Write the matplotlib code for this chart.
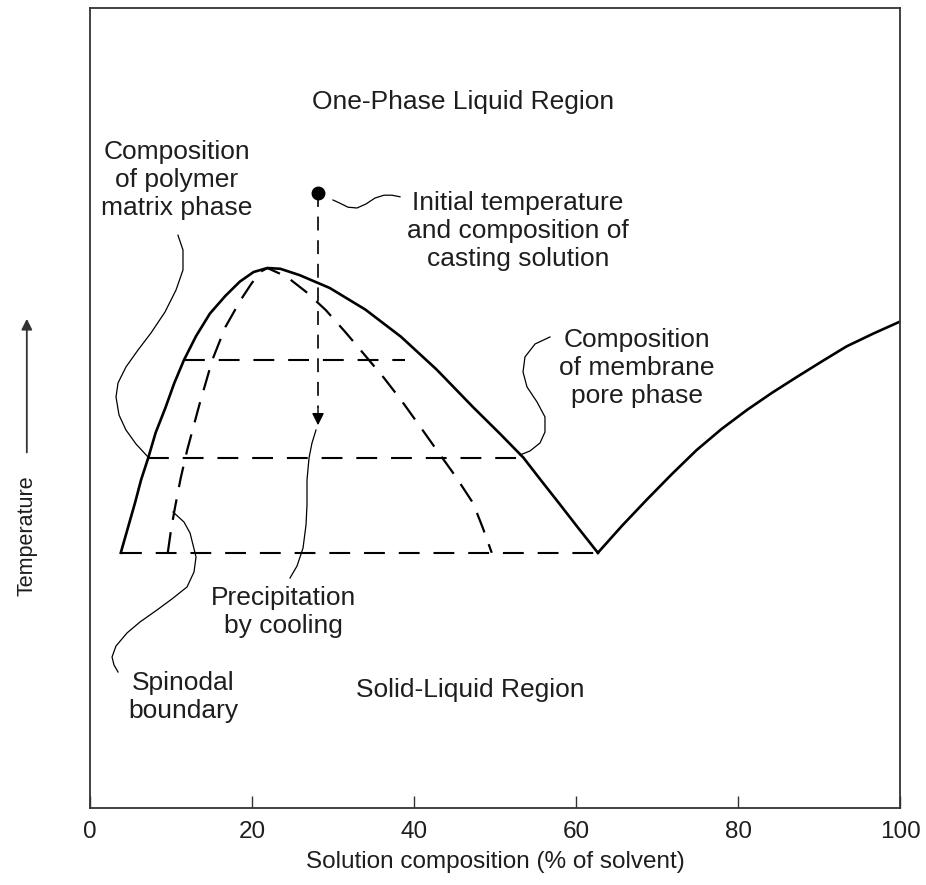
import matplotlib
matplotlib.use("Agg")
import matplotlib.pyplot as plt

plt.rcParams['font.family'] = ['Liberation Sans', 'DejaVu Sans']
plt.rcParams['lines.scale_dashes'] = False

# binodal (solid) curve, % solvent vs temperature (arbitrary units 0-100)
binodal_x = [3.8, 4.7, 5.6, 6.3, 7.2, 8.1, 9.3, 10.4, 11.6, 13.1, 14.8, 16.7, 18.5, 20.2, 21.9,
             23.5, 25.9, 29.6, 34.0, 38.4, 42.8, 47.3, 50.6, 53.5, 55.8, 57.9, 60.2, 62.7]
binodal_y = [31.9, 35.1, 38.3, 41.0, 43.8, 46.9, 50.0, 53.1, 56.0, 59.0, 61.8, 64.0, 65.8, 67.0, 67.5,
             67.4, 66.6, 65.0, 62.3, 58.9, 54.8, 50.1, 46.8, 43.8, 40.8, 38.1, 35.1, 31.9]

# liquidus on the solvent side
liquidus_x = [62.7, 65.7, 68.7, 71.8, 74.9, 78.0, 81.1, 84.2, 87.3, 90.4, 93.4, 96.7, 100]
liquidus_y = [31.9, 35.3, 38.5, 41.7, 44.75, 47.4, 49.75, 51.9, 53.9, 55.85, 57.7, 59.3, 60.8]

# spinodal (dashed)
spinodal_x = [9.6, 10.0, 10.5, 11.2, 12.0, 13.5, 15.1, 16.7, 18.6, 19.9, 21.0, 21.9,
              24.3, 26.7, 29.1, 31.6, 34.1, 36.3, 38.4, 40.6, 42.8, 45.1, 47.3, 48.5, 49.6]
spinodal_y = [31.9, 34.75, 37.6, 41.25, 44.75, 50.4, 56.0, 60.1, 63.5, 65.5, 67.0, 67.5,
              66.4, 64.5, 62.25, 59.4, 56.4, 53.75, 51.0, 47.9, 44.75, 41.5, 38.1, 35.0, 31.9]

# tie lines: temperature, left end, right end
tie_y = [31.9, 43.8, 56.0]
tie_left = [3.8, 7.2, 11.6]
tie_right = [62.7, 53.5, 38.9]

# casting solution start point and cooling path
start_x = 28.15
start_y = 76.9
end_y = 47.5

# leader squiggles for the labels
lead_polymer_x = [10.86, 11.48, 11.48, 10.62, 9.26, 7.53, 5.93, 4.44, 3.46, 3.21, 3.58, 4.44, 5.68, 7.16]
lead_polymer_y = [71.6, 69.75, 67.25, 64.75, 62.0, 59.38, 57.25, 55.13, 53.13, 51.38, 49.13, 47.25, 45.5, 43.88]
lead_membrane_x = [56.79, 54.94, 53.7, 53.46, 53.95, 55.19, 56.17, 56.17, 55.56, 54.32, 53.09]
lead_membrane_y = [58.88, 58.0, 56.38, 54.5, 52.63, 50.75, 48.88, 47.0, 45.63, 44.63, 44.13]
lead_spinodal_x = [10.25, 11.6, 12.35, 13.09, 12.84, 11.98, 10.12, 8.27, 6.17, 4.57, 3.21, 2.72, 2.96, 3.46]
lead_spinodal_y = [37.0, 35.75, 34.38, 31.38, 29.5, 27.63, 26.13, 24.75, 23.25, 21.88, 20.25, 18.88, 17.88, 17.0]
lead_precip_x = [27.9, 27.4, 27.04, 26.79, 26.79, 26.67, 26.3, 25.56, 24.69]
lead_precip_y = [47.25, 45.6, 43.75, 41.0, 37.9, 35.4, 32.5, 30.25, 28.75]
lead_initial_x = [30.0, 30.86, 31.85, 32.96, 34.07, 35.19, 36.3, 37.28, 38.27]
lead_initial_y = [76.0, 75.6, 75.1, 75.0, 75.5, 76.25, 76.6, 76.6, 76.4]

xticks = [0, 20, 40, 60, 80, 100]

fig = plt.figure(figsize=(9.26, 8.85), dpi=100)
ax = fig.add_axes([90 / 926, 77 / 885, 810 / 926, 800 / 885])

txt = '#1e1e1e'
fs = 19
fs_axis = 17.5

ax.plot(binodal_x, binodal_y, color='k', lw=1.9, solid_joinstyle='round')
ax.plot(liquidus_x, liquidus_y, color='k', lw=1.9)
ax.plot(spinodal_x, spinodal_y, color='k', lw=1.6, dashes=[15, 9])
for ty, xl, xr in zip(tie_y, tie_left, tie_right):
    ax.plot([xl, xr], [ty, ty], color='k', lw=1.5, dashes=[15, 10])

# cooling path
ax.plot([start_x, start_x], [start_y, end_y + 2.5], color='k', lw=1.2, dashes=[10, 7])
ax.annotate('', xy=(start_x, end_y), xytext=(start_x, end_y + 2.8),
            arrowprops=dict(arrowstyle='-|>', color='k', lw=1.0, mutation_scale=18))
ax.plot([start_x], [start_y], 'o', color='k', markersize=9)

for lx, ly in [(lead_polymer_x, lead_polymer_y), (lead_membrane_x, lead_membrane_y),
               (lead_spinodal_x, lead_spinodal_y), (lead_precip_x, lead_precip_y),
               (lead_initial_x, lead_initial_y)]:
    ax.plot(lx, ly, color='k', lw=0.9)

kw = dict(ha='center', va='center', fontsize=fs, color=txt, linespacing=1.2)
ax.text(46.05, 88.25, 'One-Phase Liquid Region', **kw)
ax.text(10.74, 78.5, 'Composition\nof polymer\nmatrix phase', **kw)
ax.text(52.84, 72.1, 'Initial temperature\nand composition of\ncasting solution', **kw)
ax.text(67.5, 55.0, 'Composition\nof membrane\npore phase', **kw)
ax.text(23.83, 24.5, 'Precipitation\nby cooling', **kw)
ax.text(11.48, 13.9, 'Spinodal\nboundary', **kw)
ax.text(46.9, 14.75, 'Solid-Liquid Region', **kw)

ax.set_xlim(0, 100)
ax.set_ylim(0, 100)
ax.set_xticks(xticks)
ax.set_xticklabels([str(t) for t in xticks])
ax.set_yticks([])
ax.tick_params(axis='x', direction='in', length=9, width=1.0, color='#333333',
               pad=9, labelsize=fs_axis, labelcolor=txt)
for s in ax.spines.values():
    s.set_color('#333333')
    s.set_linewidth(1.3)
ax.set_xlabel('Solution composition (% of solvent)', fontsize=fs_axis, color=txt, labelpad=6)

# temperature label with upward arrow, outside the axes
ax.text(-0.078, 0.341, 'Temperature', transform=ax.transAxes, rotation=90,
        ha='center', va='center', fontsize=15.5, color=txt)
ax.annotate('', xy=(-0.078, 0.615), xytext=(-0.078, 0.441), xycoords='axes fraction',
            textcoords='axes fraction', annotation_clip=False,
            arrowprops=dict(arrowstyle='-|>', color='#333333', lw=1.3, mutation_scale=16))

fig.savefig('out.png', dpi=100, facecolor='white')
